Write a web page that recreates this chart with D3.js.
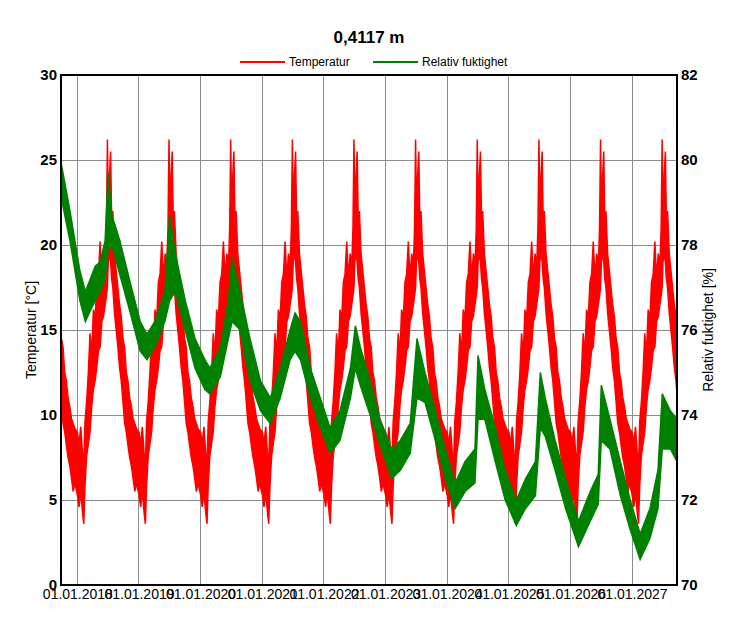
<!DOCTYPE html>
<html>
<head>
<meta charset="utf-8">
<script src="https://cdn.jsdelivr.net/npm/d3@7"></script>
<style>
  body { margin: 0; background: #fff; }
  svg { display: block; font-family: "Liberation Sans", Arial, sans-serif; }
  .narrow { font-family: "Liberation Sans Narrow", "Arial Narrow", "Liberation Sans", sans-serif; }
</style>
</head>
<body>
<script>
// chart text
const title = "0,4117 m";
const seriesNames = ["Temperatur", "Relativ fuktighet"];

// one climate year of temperature (repeated every year), envelope of the hourly curve
const tempDay  = [0, 10, 20, 30, 38, 45, 55, 65, 75, 85, 95, 105, 115, 125, 135, 145, 155, 165, 172, 178, 183, 190, 197, 203, 210, 220, 230, 240, 250, 260, 270, 280, 290, 300, 310, 320, 330, 340, 350];
const tempHigh = [9.0, 8.3, 9.3, 7.8, 7.0, 9.6, 10.8, 12.5, 14.8, 13.5, 16.2, 15.6, 17.8, 18.3, 20.2, 18.0, 19.5, 18.8, 21.0, 26.2, 22.5, 24.0, 25.5, 21.5, 22.0, 19.5, 18.5, 17.5, 16.5, 15.8, 14.5, 14.0, 12.5, 12.0, 11.0, 10.5, 9.8, 9.5, 9.2];
const tempLow  = [5.3, 4.6, 5.5, 4.3, 3.6, 5.8, 7.6, 8.3, 9.0, 10.5, 11.5, 12.0, 12.8, 13.8, 14.0, 15.5, 15.8, 16.5, 17.0, 17.5, 19.0, 19.5, 19.0, 18.0, 17.5, 16.0, 15.0, 14.0, 12.8, 12.0, 10.8, 9.5, 9.0, 8.2, 7.5, 7.0, 6.3, 5.5, 6.0];
const tempYears = [2017, 2018, 2019, 2020, 2021, 2022, 2023, 2024, 2025, 2026, 2027];

// relative humidity envelope, time in decimal years
const rhTime = [2017.74, 2017.88, 2018.04, 2018.13, 2018.29, 2018.37, 2018.45, 2018.50, 2018.56, 2018.69, 2018.86,
  2019.02, 2019.13, 2019.26, 2019.42, 2019.50, 2019.59, 2019.75, 2019.91,
  2020.07, 2020.15, 2020.32, 2020.45, 2020.51, 2020.64, 2020.80, 2020.97,
  2021.13, 2021.29, 2021.45, 2021.53, 2021.62, 2021.78, 2021.94,
  2022.10, 2022.26, 2022.43, 2022.51, 2022.59, 2022.75, 2022.91,
  2023.10, 2023.24, 2023.40, 2023.51, 2023.64, 2023.81, 2023.97,
  2024.13, 2024.29, 2024.45, 2024.50, 2024.61, 2024.78, 2024.94,
  2025.12, 2025.27, 2025.43, 2025.51, 2025.59, 2025.75, 2025.92,
  2026.13, 2026.32, 2026.45, 2026.50, 2026.64, 2026.81, 2026.97,
  2027.13, 2027.29, 2027.42, 2027.49, 2027.62, 2027.73];
const rhHigh = [79.9, 78.8, 77.4, 76.9, 77.5, 77.6, 78.1, 79.7, 78.7, 78.1, 77.1,
  76.2, 75.9, 76.2, 76.9, 78.7, 77.8, 76.7, 75.8,
  75.3, 75.1, 75.6, 76.7, 77.7, 76.9, 75.8, 74.8,
  74.4, 75.1, 76.0, 76.4, 76.2, 75.1, 74.4,
  73.7, 74.1, 75.1, 76.1, 75.6, 74.8, 73.9,
  73.2, 73.4, 73.8, 75.8, 75.0, 74.1, 73.2,
  72.4, 72.9, 73.2, 75.4, 74.6, 73.7, 72.7,
  72.0, 72.5, 72.9, 75.0, 74.4, 73.4, 72.5,
  71.5, 72.2, 72.6, 74.7, 73.9, 72.9, 72.0,
  71.2, 71.8, 72.7, 74.5, 74.1, 73.9];
const rhLow = [79.1, 78.1, 76.7, 76.2, 76.7, 76.9, 77.2, 77.9, 78.0, 77.3, 76.4,
  75.5, 75.3, 75.6, 76.2, 76.7, 76.9, 76.0, 75.1,
  74.6, 74.5, 74.9, 75.8, 76.2, 76.0, 74.8, 74.1,
  73.8, 74.4, 75.3, 75.5, 75.3, 74.4, 73.7,
  73.1, 73.4, 74.4, 75.1, 74.7, 74.0, 73.3,
  72.5, 72.7, 73.1, 74.4, 74.3, 73.4, 72.5,
  71.8, 72.2, 72.4, 73.9, 73.9, 72.9, 72.0,
  71.4, 71.8, 72.1, 73.7, 73.5, 72.7, 71.8,
  70.9, 71.5, 71.9, 73.4, 73.2, 72.1, 71.3,
  70.6, 71.1, 71.8, 73.2, 73.2, 72.9];

// axes
const tempTicks = [0, 5, 10, 15, 20, 25, 30];
const rhTicks = [70, 72, 74, 76, 78, 80, 82];
const startDate = new Date(Date.UTC(2017, 8, 26));
const endDate = new Date(Date.UTC(2027, 8, 24));

const W = 738, H = 637;
const margin = { top: 75, right: 61, bottom: 52, left: 61 };
const iw = W - margin.left - margin.right,
      ih = H - margin.top - margin.bottom;

function yearToDate(y) {
  const Y = Math.floor(y), a = Date.UTC(Y, 0, 1), b = Date.UTC(Y + 1, 0, 1);
  return new Date(a + (y - Y) * (b - a));
}

const x = d3.scaleUtc().domain([startDate, endDate]).range([0, iw]);
const yT = d3.scaleLinear().domain([0, 30]).range([ih, 0]);
const yR = d3.scaleLinear().domain([70, 82]).range([ih, 0]);

const svg = d3.select("body").append("svg")
  .attr("width", W)
  .attr("height", H);

// title + legend
svg.append("text")
  .attr("class", "narrow")
  .attr("x", W / 2).attr("y", 43)
  .attr("text-anchor", "middle")
  .style("font-size", "17px").style("font-weight", "bold")
  .text(title);

const legend = svg.append("g").attr("transform", "translate(240,62)");
[["#ff0000", 0], ["#008000", 133]].forEach(([c, dx], i) => {
  legend.append("line").attr("x1", dx).attr("x2", dx + 45).attr("y1", 0).attr("y2", 0)
    .attr("stroke", c).attr("stroke-width", 2);
  legend.append("text").attr("class", "narrow")
    .attr("x", dx + 49).attr("y", 4)
    .style("font-size", "12px")
    .text(seriesNames[i]);
});

const g = svg.append("g").attr("transform", `translate(${margin.left},${margin.top})`);

g.append("clipPath").attr("id", "clip")
  .append("rect").attr("width", iw).attr("height", ih);

// grid
const yearTicks = d3.utcYear.range(new Date(Date.UTC(2018, 0, 1)), endDate);
g.append("g").selectAll("line").data(yearTicks).enter().append("line")
  .attr("x1", d => x(d)).attr("x2", d => x(d))
  .attr("y1", 0).attr("y2", ih)
  .attr("stroke", "#8c8c8c").attr("stroke-width", 1)
  .attr("shape-rendering", "crispEdges");
g.append("g").selectAll("line").data(tempTicks.slice(1, -1)).enter().append("line")
  .attr("x1", 0).attr("x2", iw)
  .attr("y1", d => Math.round(yT(d)) + 0.5).attr("y2", d => Math.round(yT(d)) + 0.5)
  .attr("stroke", "#8c8c8c").attr("stroke-width", 1);

// temperature
const tempData = [];
tempYears.forEach(Y => {
  tempDay.forEach((d, i) => {
    tempData.push({ t: yearToDate(Y + d / 365), hi: tempHigh[i], lo: tempLow[i] });
  });
});

const plot = g.append("g").attr("clip-path", "url(#clip)");

const tempArea = d3.area()
  .x(d => x(d.t))
  .y0(d => yT(d.lo))
  .y1(d => yT(d.hi));

plot.append("path")
  .datum(tempData)
  .attr("d", tempArea)
  .attr("fill", "#ff0000")
  .attr("stroke", "#ff0000")
  .attr("stroke-width", 1.5)
  .attr("stroke-linejoin", "miter");

// relative humidity
const rhData = rhTime.map((t, i) => ({ t: yearToDate(t), hi: rhHigh[i], lo: rhLow[i] }));
const rhArea = d3.area()
  .x(d => x(d.t))
  .y0(d => yR(d.lo))
  .y1(d => yR(d.hi));

plot.append("path")
  .datum(rhData)
  .attr("d", rhArea)
  .attr("fill", "#008000")
  .attr("stroke", "#008000")
  .attr("stroke-width", 1.5);

// frame
g.append("rect")
  .attr("width", iw).attr("height", ih)
  .attr("fill", "none").attr("stroke", "#000").attr("stroke-width", 2);

// axes
const axL = g.append("g").call(d3.axisLeft(yT).tickValues(tempTicks).tickSize(0).tickPadding(4));
const axR = g.append("g").attr("transform", `translate(${iw},0)`)
  .call(d3.axisRight(yR).tickValues(rhTicks).tickSize(0).tickPadding(4));
const axB = g.append("g").attr("transform", `translate(0,${ih})`)
  .call(d3.axisBottom(x).tickValues(yearTicks).tickSize(0).tickPadding(5)
    .tickFormat(d3.utcFormat("%d.%m.%Y")));

[axL, axR, axB].forEach(a => {
  a.select(".domain").remove();
  a.selectAll("text").attr("fill", "#000")
    .style("font-family", '"Liberation Sans", Arial, sans-serif');
});
axL.selectAll("text").style("font-size", "15px").style("font-weight", "bold");
axR.selectAll("text").style("font-size", "15px").style("font-weight", "bold");
axB.selectAll("text").style("font-size", "14px").attr("dy", "0.65em");

// axis titles
svg.append("text")
  .attr("transform", `translate(36,${margin.top + ih / 2}) rotate(-90)`)
  .attr("text-anchor", "middle")
  .style("font-size", "14px")
  .text("Temperatur [°C]");
svg.append("text")
  .attr("transform", `translate(713,${margin.top + ih / 2}) rotate(-90)`)
  .attr("text-anchor", "middle")
  .style("font-size", "14px")
  .text("Relativ fuktighet [%]");
</script>
</body>
</html>
